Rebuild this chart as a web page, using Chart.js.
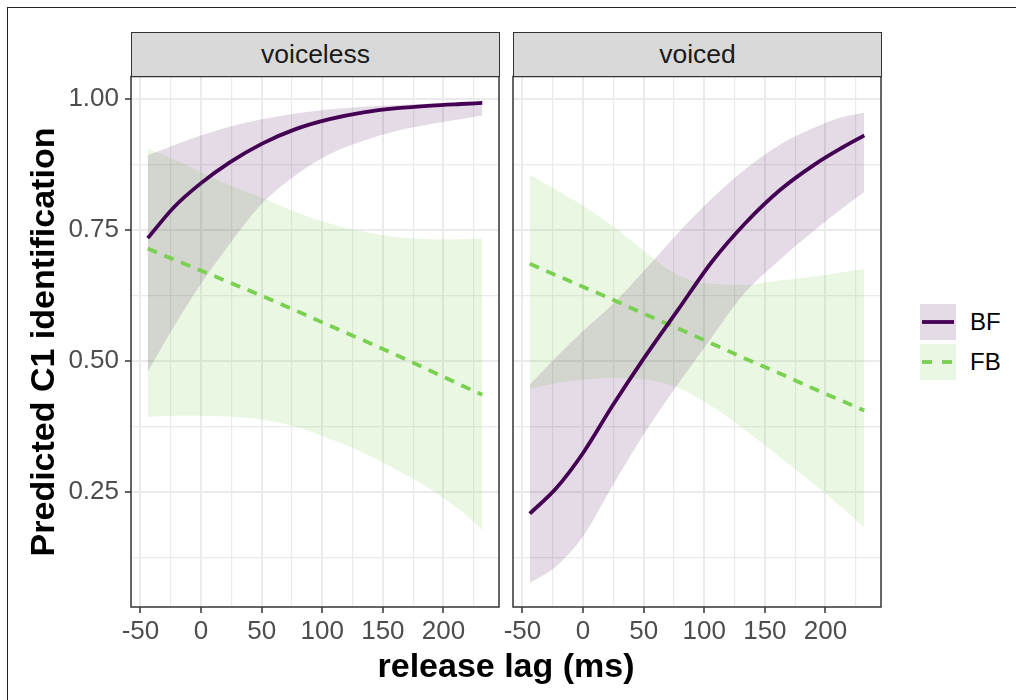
<!DOCTYPE html>
<html>
<head>
<meta charset="utf-8">
<script src="https://cdn.jsdelivr.net/npm/chart.js@4"></script>
<style>
  html, body { margin: 0; padding: 0; background: #ffffff; }
  #wrap { position: relative; width: 1016px; height: 700px; overflow: hidden; background: #fff;
          font-family: "Liberation Sans", Arial, Helvetica, sans-serif; }
  .frame { position: absolute; left: 7px; top: 7px; width: 1100px; height: 800px;
           border-top: 1.5px solid #222; border-left: 1.5px solid #222; }
  canvas { position: absolute; top: 0; }
  .strip { position: absolute; top: 31.5px; height: 45px; box-sizing: border-box;
           background: #d9d9d9; border: 1.5px solid #333; color: #1a1a1a;
           font-size: 26.5px; line-height: 42px; text-align: center; }
  .ytitle { position: absolute; left: 42px; top: 342px; width: 600px; height: 36px;
            margin-left: -300px; margin-top: -18px; line-height: 36px; text-align: center;
            transform: rotate(-90deg); font-weight: bold; font-size: 34px; color: #000; }
  .xtitle { position: absolute; left: 206px; top: 648px; width: 600px; text-align: center;
            font-weight: bold; font-size: 34px; line-height: 34px; color: #000; }
  .key { position: absolute; left: 920px; width: 36px; height: 36px; }
  .lab { position: absolute; left: 970px; font-size: 24px; line-height: 36px; color: #000; }
</style>
</head>
<body>
<div id="wrap">
  <div class="frame"></div>
  <canvas id="c1" width="505" height="700" style="left:0px"></canvas>
  <canvas id="c2" width="505" height="700" style="left:382px"></canvas>
  <div class="strip" id="s1" style="left:131px; width:369px;"></div>
  <div class="strip" id="s2" style="left:513px; width:369px;"></div>
  <div class="ytitle" id="yt"></div>
  <div class="xtitle" id="xt"></div>
  <canvas id="k1" class="key" width="36" height="36" style="top:304px"></canvas>
  <canvas id="k2" class="key" width="36" height="36" style="top:344px"></canvas>
  <div class="lab" id="l1" style="top:304px"></div>
  <div class="lab" id="l2" style="top:344px"></div>
</div>
<script>
// ---------- data ----------
const panels = ['voiceless', 'voiced'];
const seriesNames = ['BF', 'FB'];
const xLabel = 'release lag (ms)';
const yLabel = 'Predicted C1 identification';

const xLag = [-44, -22, 0, 24, 50, 78, 106, 134, 162, 190, 214, 232];

// voiceless panel
const bfFitVl = [0.735, 0.795, 0.840, 0.880, 0.915, 0.943, 0.962, 0.975, 0.983, 0.988, 0.991, 0.993];
const bfLoVl  = [0.480, 0.568, 0.648, 0.725, 0.800, 0.855, 0.895, 0.921, 0.940, 0.953, 0.962, 0.969];
const bfHiVl  = [0.893, 0.913, 0.931, 0.948, 0.962, 0.973, 0.981, 0.986, 0.989, 0.992, 0.994, 0.996];
const fbFitVl = [0.715, 0.694, 0.673, 0.650, 0.625, 0.597, 0.568, 0.540, 0.511, 0.481, 0.455, 0.436];
const fbLoVl  = [0.393, 0.396, 0.396, 0.394, 0.389, 0.375, 0.352, 0.325, 0.292, 0.255, 0.215, 0.178];
const fbHiVl  = [0.905, 0.885, 0.861, 0.836, 0.812, 0.785, 0.763, 0.747, 0.737, 0.733, 0.733, 0.734];

// voiced panel
const bfFitVd = [0.209, 0.258, 0.325, 0.414, 0.505, 0.597, 0.689, 0.764, 0.826, 0.874, 0.908, 0.931];
const bfLoVd  = [0.077, 0.109, 0.166, 0.261, 0.360, 0.455, 0.545, 0.632, 0.693, 0.748, 0.792, 0.823];
const bfHiVd  = [0.455, 0.508, 0.558, 0.608, 0.672, 0.744, 0.810, 0.867, 0.913, 0.945, 0.966, 0.975];
const fbFitVd = [0.686, 0.664, 0.642, 0.618, 0.591, 0.563, 0.534, 0.505, 0.477, 0.448, 0.424, 0.406];
const fbLoVd  = [0.447, 0.458, 0.465, 0.468, 0.465, 0.450, 0.414, 0.368, 0.318, 0.266, 0.220, 0.182];
const fbHiVd  = [0.856, 0.827, 0.797, 0.759, 0.711, 0.665, 0.648, 0.646, 0.654, 0.662, 0.670, 0.676];

// ticks
const xTickValues = [-50, 0, 50, 100, 150, 200];
const xMinorValues = [-25, 25, 75, 125, 175, 225];
const yTickValues = [0.25, 0.50, 0.75, 1.00];
const yTickLabels = ['0.25', '0.50', '0.75', '1.00'];
const yMinorValues = [0.125, 0.375, 0.625, 0.875];

// ---------- styling ----------
const BF_COL = '#440154';
const FB_COL = '#7AD151';
const BF_FILL = 'rgba(68,1,84,0.14)';
const FB_FILL = 'rgba(122,209,81,0.16)';
const FONT = '"Liberation Sans", Arial, Helvetica, sans-serif';

document.getElementById('s1').textContent = panels[0];
document.getElementById('s2').textContent = panels[1];
document.getElementById('yt').textContent = yLabel;
document.getElementById('xt').textContent = xLabel;
document.getElementById('l1').textContent = seriesNames[0];
document.getElementById('l2').textContent = seriesNames[1];

const pts = (ys) => xLag.map((x, i) => ({x: x, y: ys[i]}));
const isMajorX = (v) => xTickValues.includes(v);
const isMajorY = (v) => yTickValues.some(t => Math.abs(t - v) < 1e-9);

const borderPlugin = {
  id: 'panelBorder',
  afterDraw(chart) {
    const a = chart.chartArea, c = chart.ctx;
    c.save();
    c.strokeStyle = '#333333';
    c.lineWidth = 1.5;
    c.strokeRect(a.left, a.top, a.right - a.left, a.bottom - a.top);
    c.restore();
  }
};

function makeChart(id, d, showY) {
  const band = (ys, col, fillTarget) => ({
    data: pts(ys), borderWidth: 0, borderColor: 'rgba(0,0,0,0)', pointRadius: 0,
    backgroundColor: col, fill: fillTarget, cubicInterpolationMode: 'monotone'
  });
  return new Chart(document.getElementById(id), {
    type: 'line',
    data: {
      datasets: [
        { label: seriesNames[0], data: pts(d.bfFit), borderColor: BF_COL, borderWidth: 3.8,
          pointRadius: 0, fill: false, cubicInterpolationMode: 'monotone', borderCapStyle: 'butt' },
        { label: seriesNames[1], data: pts(d.fbFit), borderColor: FB_COL, borderWidth: 3.8,
          borderDash: [10, 8], pointRadius: 0, fill: false, cubicInterpolationMode: 'monotone', borderCapStyle: 'butt' },
        band(d.bfLo, 'rgba(0,0,0,0)', false),
        band(d.bfHi, BF_FILL, 2),
        band(d.fbLo, 'rgba(0,0,0,0)', false),
        band(d.fbHi, FB_FILL, 4)
      ]
    },
    options: {
      responsive: false, animation: false, devicePixelRatio: 1,
      layout: { padding: { top: 76.5, right: 6, bottom: 53, left: 0 } },
      plugins: { legend: { display: false }, tooltip: { enabled: false }, title: { display: false },
                 filler: { drawTime: 'beforeDatasetsDraw' } },
      scales: {
        x: {
          type: 'linear', min: -57.8, max: 245.8,
          afterBuildTicks: (s) => { s.ticks = xTickValues.concat(xMinorValues).sort((a, b) => a - b).map(v => ({value: v})); },
          afterFit: (s) => { s.height = 40; },
          border: { display: false },
          grid: {
            color: '#ebebeb',
            lineWidth: (c) => isMajorX(c.tick.value) ? 2 : 1.2,
            drawTicks: true, tickLength: 6, tickWidth: 1.5,
            tickColor: (c) => isMajorX(c.tick.value) ? '#333333' : 'rgba(0,0,0,0)'
          },
          ticks: {
            autoSkip: false, maxRotation: 0, minRotation: 0, padding: 3,
            color: '#4d4d4d', font: { family: FONT, size: 26 },
            callback: (v) => isMajorX(v) ? String(v) : ''
          }
        },
        y: {
          type: 'linear', min: 0.031, max: 1.0435,
          afterBuildTicks: (s) => { s.ticks = yMinorValues.concat(yTickValues).sort((a, b) => a - b).map(v => ({value: v})); },
          afterFit: (s) => { s.width = 131; },
          border: { display: false },
          grid: {
            color: '#ebebeb',
            lineWidth: (c) => isMajorY(c.tick.value) ? 2 : 1.2,
            drawTicks: true, tickLength: 6, tickWidth: 1.5,
            tickColor: (c) => (showY && isMajorY(c.tick.value)) ? '#333333' : 'rgba(0,0,0,0)'
          },
          ticks: {
            autoSkip: false, padding: 6,
            color: '#4d4d4d', font: { family: FONT, size: 26 },
            callback: (v) => {
              if (!showY) return '';
              const i = yTickValues.findIndex(t => Math.abs(t - v) < 1e-9);
              return i >= 0 ? yTickLabels[i] : '';
            }
          }
        }
      }
    },
    plugins: [borderPlugin]
  });
}

makeChart('c1', { bfFit: bfFitVl, bfLo: bfLoVl, bfHi: bfHiVl, fbFit: fbFitVl, fbLo: fbLoVl, fbHi: fbHiVl }, true);
makeChart('c2', { bfFit: bfFitVd, bfLo: bfLoVd, bfHi: bfHiVd, fbFit: fbFitVd, fbLo: fbLoVd, fbHi: fbHiVd }, false);

// legend keys
function drawKey(id, fill, col, dash) {
  const c = document.getElementById(id).getContext('2d');
  c.fillStyle = fill; c.fillRect(0, 0, 36, 36);
  c.strokeStyle = col; c.lineWidth = 3.8; c.lineCap = 'butt';
  c.setLineDash(dash); c.beginPath(); c.moveTo(2, 18); c.lineTo(34, 18); c.stroke();
}
drawKey('k1', BF_FILL, BF_COL, []);
drawKey('k2', FB_FILL, FB_COL, [10, 10]);
</script>
</body>
</html>
